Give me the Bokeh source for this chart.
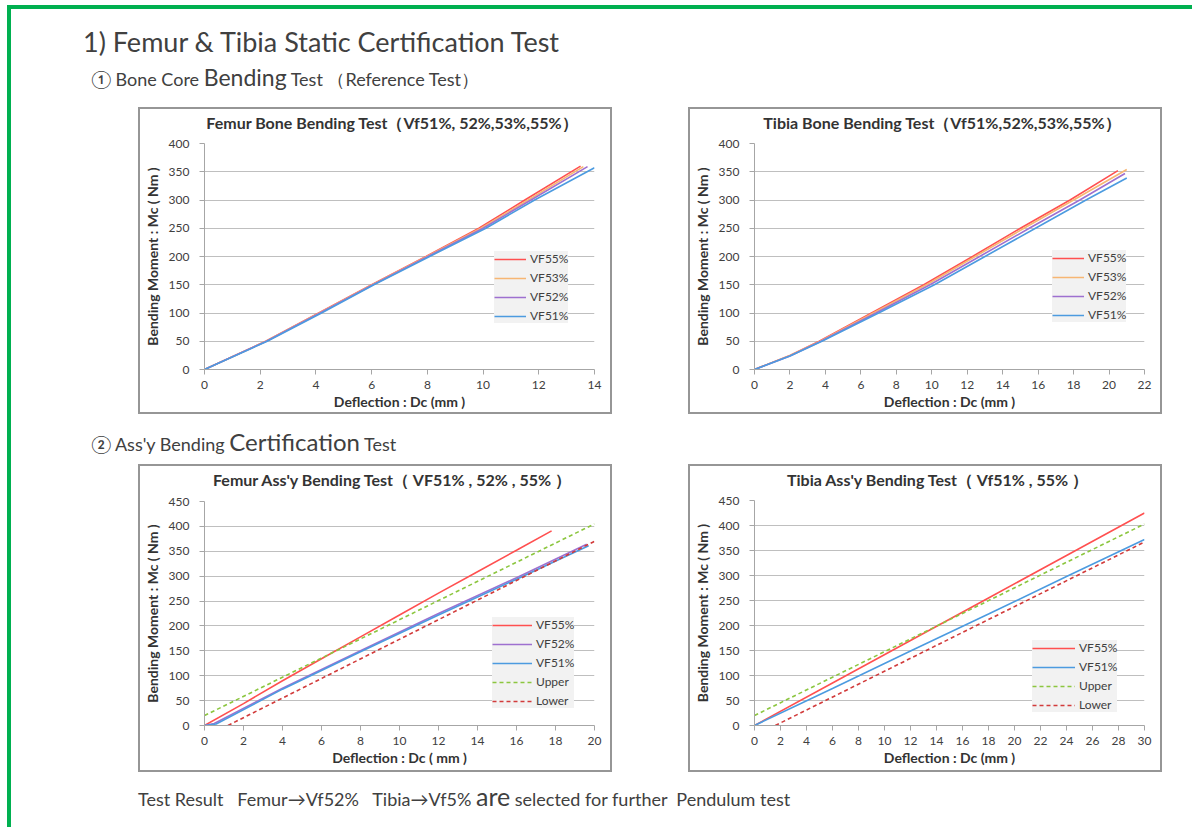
from bokeh.plotting import figure
from bokeh.models import Range1d, SingleIntervalTicker, Legend, LegendItem, Div
from bokeh.layouts import column, row
from bokeh.embed import file_html
from bokeh.resources import INLINE

# ---------------- data ----------------
# Femur bone core bending test
fb_x55 = [0, 2.2, 4.1, 6.0, 7.95, 9.85, 11.5, 13.5]
fb_y55 = [0, 50, 100, 150, 200, 250, 300, 360]
fb_x53 = [0, 2.2, 4.12, 6.02, 7.98, 9.92, 11.62, 13.6]
fb_y53 = [0, 50, 100, 150, 200, 250, 300, 359]
fb_x52 = [0, 2.22, 4.15, 6.05, 8.02, 10.0, 11.72, 13.75]
fb_y52 = [0, 50, 100, 150, 200, 250, 300, 359]
fb_x51 = [0, 2.25, 4.2, 6.08, 8.08, 10.1, 11.85, 14.0]
fb_y51 = [0, 50, 100, 150, 200, 250, 300, 357]

# Tibia bone core bending test
tb_x55 = [0, 2, 3.65, 6.6, 9.55, 12.3, 15.0, 17.8, 20.5]
tb_y55 = [0, 25, 50, 100, 150, 200, 250, 300, 352]
tb_x53 = [0, 2, 3.7, 6.7, 9.7, 12.45, 15.2, 18.0, 21.0]
tb_y53 = [0, 25, 50, 100, 150, 200, 250, 300, 354]
tb_x52 = [0, 2, 3.75, 6.85, 9.9, 12.7, 15.5, 18.35, 20.9]
tb_y52 = [0, 24, 50, 100, 150, 200, 250, 300, 347]
tb_x51 = [0, 2, 3.8, 7.0, 10.15, 13.0, 15.85, 18.7, 21.0]
tb_y51 = [0, 24, 50, 100, 150, 200, 250, 300, 339]

# Femur ass'y bending certification test
fa_x55 = [0, 2, 4, 6, 8, 10, 12, 14, 16, 17.8]
fa_y55 = [0, 44, 90, 134, 178, 222, 266, 309, 352, 391]
fa_x52 = [0, 0.5, 4, 8, 12, 16, 19.6]
fa_y52 = [0, 4, 75, 150, 225, 297, 364]
fa_x51 = [0, 0.6, 4, 8, 12, 16, 19.7]
fa_y51 = [0, 3, 73, 148, 222, 294, 361]
fa_x_up = [0, 20]
fa_y_up = [20, 405]
fa_x_lo = [1.2, 20]
fa_y_lo = [0, 370]

# Tibia ass'y bending certification test
ta_x55 = [0, 6, 12, 18, 24, 30]
ta_y55 = [0, 85, 170, 255, 340, 425]
ta_x51 = [0, 6, 12, 18, 24, 30]
ta_y51 = [0, 74, 149, 223, 298, 372]
ta_x_up = [0, 30]
ta_y_up = [20, 403]
ta_x_lo = [1.6, 30]
ta_y_lo = [0, 367]

# ---------------- style ----------------
FONT = "Lato"
TXT = "#404040"
GRID = "#bfbfbf"
AXIS = "#a6a6a6"
BOX = "#969696"
GREEN = "#00b050"
COL = {"VF55%": "#ff5050", "VF53%": "#f7b673", "VF52%": "#9e70d0",
       "VF51%": "#4c9be0", "Upper": "#8cc63f", "Lower": "#d23b3b"}


def make_chart(xlabel, xmax, ymax, series, loc, glyph_w, fig_h, left, frame_w, top, bottom):
    p = figure(width=470, height=fig_h, x_range=Range1d(0, xmax), y_range=Range1d(0, ymax),
               output_backend="svg", toolbar_location=None, margin=0,
               min_border_left=left, min_border_right=470 - left - frame_w,
               min_border_top=top, min_border_bottom=bottom)
    p.outline_line_color = None
    p.title.text = ""
    p.title.text_font_size = "0px"
    p.title.standoff = 0

    p.xaxis.ticker = SingleIntervalTicker(interval=2)
    p.yaxis.ticker = SingleIntervalTicker(interval=50)
    p.xaxis.axis_label = xlabel
    p.yaxis.axis_label = "Bending Moment : Mc ( Nm )"
    for ax in (p.xaxis, p.yaxis):
        ax.axis_label_text_font = FONT
        ax.axis_label_text_font_style = "bold"
        ax.axis_label_text_font_size = "14px"
        ax.axis_label_text_color = "#333333"
        ax.major_label_text_font = FONT
        ax.major_label_text_font_size = "12px"
        ax.major_label_text_color = TXT
        ax.axis_line_color = AXIS
        ax.major_tick_line_color = AXIS
        ax.minor_tick_line_color = None
        ax.major_tick_in = 0
        ax.major_tick_out = 5
    p.xaxis.major_label_standoff = 6
    p.xaxis.axis_label_standoff = 1
    p.yaxis.major_label_standoff = 10
    p.yaxis.axis_label_standoff = 5
    p.xgrid.visible = False
    p.ygrid.grid_line_color = GRID

    items = []
    for name, xs, ys in series:
        dash = "4 3" if name in ("Upper", "Lower") else "solid"
        r = p.line(xs, ys, line_color=COL[name], line_width=1.6, line_dash=dash)
        items.append(LegendItem(label=name, renderers=[r]))
    lg = Legend(items=items, location=loc)
    lg.background_fill_color = "#f2f2f2"
    lg.background_fill_alpha = 1
    lg.border_line_color = None
    lg.label_text_font = FONT
    lg.label_text_font_size = "12px"
    lg.label_text_color = TXT
    lg.glyph_width = glyph_w
    lg.glyph_height = 12
    lg.label_height = 12
    lg.spacing = 4
    lg.padding = 3
    lg.margin = 0
    lg.label_standoff = 4
    p.add_layout(lg)
    return p


def gray(w, h):
    return Div(text="", width=w, height=h, margin=0, styles={"background-color": BOX})


def sp(w, h):
    return Div(text="", width=w, height=h, margin=0)


def chart_title(text, off, h, lh):
    d = Div(text=text, width=470 - off, height=h, margin=0,
            styles={"font-family": "Lato, sans-serif", "font-size": "16px", "font-weight": "bold",
                    "line-height": f"{lh}px", "white-space": "pre", "color": "#333333",
                    "text-align": "center"})
    return row(sp(off, h), d, spacing=0)


def boxed(p, ttl, h):
    inner = column(ttl, p, spacing=0)
    return column(gray(474, 2), row(gray(2, h - 4), inner, gray(2, h - 4), spacing=0),
                  gray(474, 2), spacing=0)


def tdiv(html, w, h, size):
    return Div(text=html, width=w, height=h, margin=0,
               styles={"font-family": "Lato, sans-serif", "font-size": f"{size}px",
                       "line-height": f"{h}px", "white-space": "pre", "color": TXT})


c1 = make_chart("Deflection : Dc (mm )", 14, 400,
                [("VF55%", fb_x55, fb_y55), ("VF53%", fb_x53, fb_y53),
                 ("VF52%", fb_x52, fb_y52), ("VF51%", fb_x51, fb_y51)],
                (290, 46), 32, 277, 62, 392, 8, 43)
c2 = make_chart("Deflection : Dc (mm )", 22, 400,
                [("VF55%", tb_x55, tb_y55), ("VF53%", tb_x53, tb_y53),
                 ("VF52%", tb_x52, tb_y52), ("VF51%", tb_x51, tb_y51)],
                (298, 47), 32, 277, 62, 392, 8, 43)
c3 = make_chart("Deflection : Dc ( mm )", 20, 450,
                [("VF55%", fa_x55, fa_y55), ("VF52%", fa_x52, fa_y52), ("VF51%", fa_x51, fa_y51),
                 ("Upper", fa_x_up, fa_y_up), ("Lower", fa_x_lo, fa_y_lo)],
                (288, 17), 40, 277, 63, 391, 8, 45)
c4 = make_chart("Deflection : Dc (mm )", 30, 450,
                [("VF55%", ta_x55, ta_y55), ("VF51%", ta_x51, ta_y51),
                 ("Upper", ta_x_up, ta_y_up), ("Lower", ta_x_lo, ta_y_lo)],
                (278, 13), 43, 278, 64, 390, 8, 45)

t1 = chart_title("Femur Bone Bending Test（Vf51%, 52%,53%,55%）", 34, 26, 28)
t2 = chart_title("Tibia Bone Bending Test（Vf51%,52%,53%,55%）", 34, 26, 28)
t3 = chart_title("Femur Ass'y Bending Test（ VF51% , 52% , 55% ）", 34, 27, 28)
t4 = chart_title("Tibia Ass'y Bending Test（ Vf51% , 55% ）", 25, 26, 28)

title = tdiv("1) Femur &amp; Tibia Static Certification Test", 800, 30, 27)
sub1 = tdiv('① Bone Core <span style="font-size:23px">Bending</span> Test （Reference Test）', 800, 40, 18)
sub2 = tdiv('② Ass\'y Bending <span style="font-size:24px">Certification</span> Test', 800, 38, 18)
foot = tdiv('Test Result   Femur→Vf52%   Tibia→Vf5% <span style="font-size:25px">are</span> selected for further  Pendulum test',
            900, 34, 18)

# content column starts at page (11, 9)
content = column(
    sp(100, 18),
    row(sp(72, 30), title, spacing=0),
    row(sp(80, 40), sub1, spacing=0),
    sp(100, 10),
    row(sp(127, 307), boxed(c1, t1, 307), sp(76, 307), boxed(c2, t2, 307), spacing=0),
    sp(100, 9),
    row(sp(80, 38), sub2, spacing=0),
    sp(100, 3),
    row(sp(127, 308), boxed(c3, t3, 308), sp(76, 308), boxed(c4, t4, 308), spacing=0),
    sp(100, 7),
    row(sp(127, 34), foot, spacing=0),
    spacing=0,
)

green_top = Div(text="", width=1185, height=4, margin=0, styles={"background-color": GREEN})
green_left = Div(text="", width=4, height=818, margin=0, styles={"background-color": GREEN})
root = column(
    sp(1192, 5),
    row(sp(7, 4), green_top, spacing=0),
    row(sp(7, 818), green_left, content, spacing=0),
    spacing=0,
)

open("out.html", "w").write(file_html(root, INLINE))
